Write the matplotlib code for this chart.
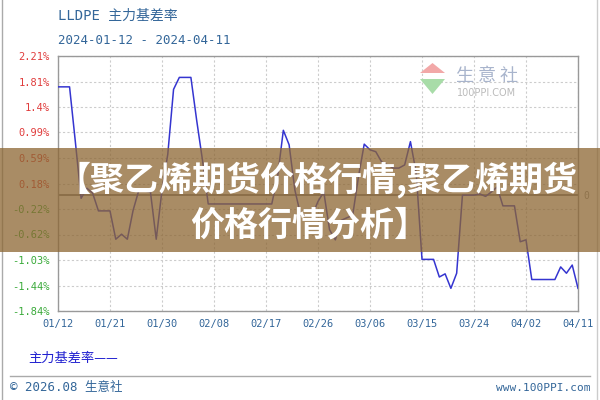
import matplotlib
matplotlib.use("Agg")
import matplotlib.pyplot as plt
from matplotlib.patches import Rectangle, Polygon
from matplotlib.lines import Line2D
import pandas as pd
import numpy as np

# vertices of the basis-rate line (date, %)
dates = ['2024-01-12', '2024-01-14', '2024-01-15', '2024-01-16', '2024-01-17', '2024-01-18',
         '2024-01-19', '2024-01-21', '2024-01-22', '2024-01-23', '2024-01-24', '2024-01-25',
         '2024-01-26', '2024-01-28', '2024-01-29', '2024-01-30', '2024-01-31', '2024-02-01',
         '2024-02-02', '2024-02-04', '2024-02-05', '2024-02-06', '2024-02-07', '2024-02-18',
         '2024-02-19', '2024-02-20', '2024-02-21', '2024-02-22', '2024-02-23', '2024-02-25',
         '2024-02-26', '2024-02-27', '2024-02-28', '2024-02-29', '2024-03-01', '2024-03-03',
         '2024-03-04', '2024-03-05', '2024-03-06', '2024-03-07', '2024-03-08', '2024-03-10',
         '2024-03-11', '2024-03-12', '2024-03-13', '2024-03-14', '2024-03-15', '2024-03-17',
         '2024-03-18', '2024-03-19', '2024-03-20', '2024-03-21', '2024-03-22', '2024-03-24',
         '2024-03-25', '2024-03-26', '2024-03-27', '2024-03-28', '2024-03-29', '2024-03-31',
         '2024-04-01', '2024-04-02', '2024-04-03', '2024-04-07', '2024-04-08', '2024-04-09',
         '2024-04-10', '2024-04-11']
values = [1.72, 1.72, 0.85, -0.05, 0.11, 0.03,
          -0.25, -0.25, -0.70, -0.62, -0.70, -0.24,
          0.08, 0.05, -0.70, 0.08, 0.65, 1.68,
          1.87, 1.87, 1.19, 0.56, -0.14, -0.14,
          0.29, 1.03, 0.80, 0.08, -0.32, -0.32,
          -0.10, 0.05, -0.55, -0.71, -0.40, -0.32,
          0.29, 0.81, 0.72, 0.69, 0.53, 0.43,
          0.43, 0.48, 0.85, 0.35, -1.02, -1.02,
          -1.30, -1.25, -1.48, -1.24, 0.00, 0.00,
          0.02, -0.02, 0.05, 0.13, -0.17, -0.17,
          -0.74, -0.71, -1.34, -1.34, -1.14, -1.24,
          -1.11, -1.48]

ytick_labels = ['-1.84%', '-1.44%', '-1.03%', '-0.62%', '-0.22%', '0.18%',
                '0.59%', '0.99%', '1.4%', '1.81%', '2.21%']
xtick_labels = ['01/12', '01/21', '01/30', '02/08', '02/17', '02/26',
                '03/06', '03/15', '03/24', '04/02', '04/11']

W, H = 600, 400
BLUE_TXT = '#336699'


def fx(x):
    return x / W


def fy(y):
    return 1 - y / H


fig = plt.figure(figsize=(6, 4), dpi=100)
fig.patch.set_facecolor('white')

# outer frame
fig.add_artist(Line2D([fx(2), fx(2)], [0, 1], color='#aaaaaa', lw=1))
fig.add_artist(Line2D([fx(597), fx(597)], [0, 1], color='#cccccc', lw=1))

ax = fig.add_axes([fx(58), fy(311), fx(578) - fx(58), (311 - 56) / H])
x = pd.to_datetime(dates)
ax.plot(x, values, color='#3535d0', lw=1.1, zorder=3)

start = pd.Timestamp('2024-01-12')
end = pd.Timestamp('2024-04-11')
ax.set_xlim(start, end)
ax.set_ylim(-1.84, 2.21)
xt = pd.date_range(start, end, freq='9D')
ax.set_xticks(xt)
ax.set_xticklabels(xtick_labels)
yt = np.linspace(-1.84, 2.21, 11)
ax.set_yticks(yt)
ax.set_yticklabels(ytick_labels)
ax.tick_params(length=0, pad=6)
ax.grid(True, linestyle=(0, (2, 2)), color='#cccccc', lw=0.8)
for s in ax.spines.values():
    s.set_color('#999999')
    s.set_linewidth(1)
ax.axhline(0, color='#777777', lw=1.2, zorder=2)

for lab in ax.get_xticklabels():
    lab.set_fontfamily('DejaVu Sans Mono')
    lab.set_fontsize(7.5)
    lab.set_color(BLUE_TXT)
for lab, v in zip(ax.get_yticklabels(), yt):
    lab.set_fontfamily('DejaVu Sans Mono')
    lab.set_fontsize(7.5)
    lab.set_color('#e03c3c' if v > 0 else '#3aaa3a')

fig.text(fx(586), fy(196), '0', color='#999999', fontsize=7, ha='center', va='center',
         family='DejaVu Sans Mono')

# titles
fam = ['DejaVu Sans Mono', 'Noto Sans CJK SC']
fig.text(fx(58), fy(16), 'LLDPE 主力基差率', color=BLUE_TXT, fontsize=10, family=fam,
         ha='left', va='center')
fig.text(fx(58), fy(40), '2024-01-12 - 2024-04-11', color=BLUE_TXT, fontsize=9, family=fam,
         ha='left', va='center')

# watermark logo
fig.add_artist(Polygon([(fx(420), fy(73)), (fx(445), fy(73)), (fx(432.5), fy(63))],
                       closed=True, transform=fig.transFigure, fc='#f2a8a8', ec='none'))
fig.add_artist(Polygon([(fx(420), fy(79)), (fx(445), fy(79)), (fx(432.5), fy(94))],
                       closed=True, transform=fig.transFigure, fc='#a8dca8', ec='none'))
fig.text(fx(487), fy(76), '生 意 社', color='#a8b4cc', fontsize=13, family='Noto Sans CJK SC',
         ha='center', va='center')
fig.text(fx(487), fy(93), '100PPI.COM', color='#bbbbbb', fontsize=7, family='DejaVu Sans',
         ha='center', va='center')

# legend and footer
fig.text(fx(28), fy(358), '主力基差率——', color='#2020d0', fontsize=9.5,
         family=['Noto Sans CJK SC', 'DejaVu Sans'], ha='left', va='center')
fig.add_artist(Line2D([fx(10), fx(590)], [fy(376), fy(376)], color='#aaaaaa', lw=1))
fig.text(fx(10), fy(388), '© 2026.08 生意社', color=BLUE_TXT, fontsize=9, family=fam,
         ha='left', va='center')
fig.text(fx(590), fy(388), 'www.100PPI.com', color=BLUE_TXT, fontsize=8,
         family='DejaVu Sans Mono', ha='right', va='center')

# overlay banner
fig.add_artist(Rectangle((0, fy(252)), 1, (252 - 148) / H, transform=fig.transFigure,
                         fc='#8c6632', alpha=0.75, ec='none', zorder=10))
fig.text(fx(317), fy(180), '【聚乙烯期货价格行情,聚乙烯期货', color='white', fontsize=24.5,
         fontweight='heavy', family='Noto Sans CJK SC', ha='center', va='center', zorder=11)
fig.text(fx(309), fy(225), '价格行情分析】', color='white', fontsize=24.5,
         fontweight='heavy', family='Noto Sans CJK SC', ha='center', va='center', zorder=11)

fig.savefig('out.png', dpi=100)
